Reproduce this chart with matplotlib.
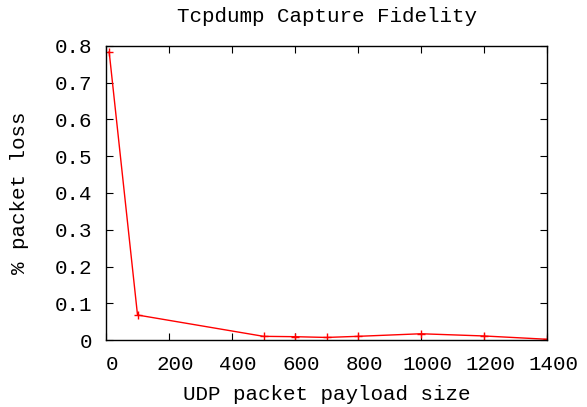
import matplotlib
matplotlib.use('Agg')
import matplotlib.pyplot as plt
import matplotlib.transforms as mtransforms

payload = [10, 100, 500, 600, 700, 800, 1000, 1200, 1400]
loss = [0.784, 0.068, 0.010, 0.009, 0.007, 0.010, 0.017, 0.011, 0.002]

plt.rcParams['font.family'] = ['Liberation Mono', 'DejaVu Sans Mono']
plt.rcParams['font.size'] = 15

fig = plt.figure(figsize=(5.87, 4.07), dpi=100)
ax = fig.add_axes([0.1806, 0.1646, 0.7513, 0.7224])
ax.plot(payload, loss, color='red', linewidth=1, marker='+', markersize=6)

ax.set_xlim(0, 1400)
ax.set_ylim(0, 0.8)
ax.set_xticks(range(0, 1401, 200))
ax.set_yticks([i / 10 for i in range(9)])
ax.set_yticklabels(['0'] + [f'{i / 10:.1f}' for i in range(1, 9)])
ax.tick_params(direction='in', top=True, right=True, length=5)
ax.tick_params(axis='x', pad=11)
ax.tick_params(axis='y', pad=10)
for s in ax.spines.values():
    s.set_linewidth(1)

# gnuplot style: x labels sit a bit right of their ticks
shift = mtransforms.ScaledTranslation(6 / 100, 0, fig.dpi_scale_trans)
for lab in ax.get_xticklabels():
    lab.set_transform(lab.get_transform() + shift)

ax.set_title('Tcpdump Capture Fidelity', fontsize=15, pad=17)
ax.set_xlabel('UDP packet payload size', labelpad=8)
ax.set_ylabel('% packet loss', labelpad=18.5)

fig.savefig('out.png', dpi=100)
